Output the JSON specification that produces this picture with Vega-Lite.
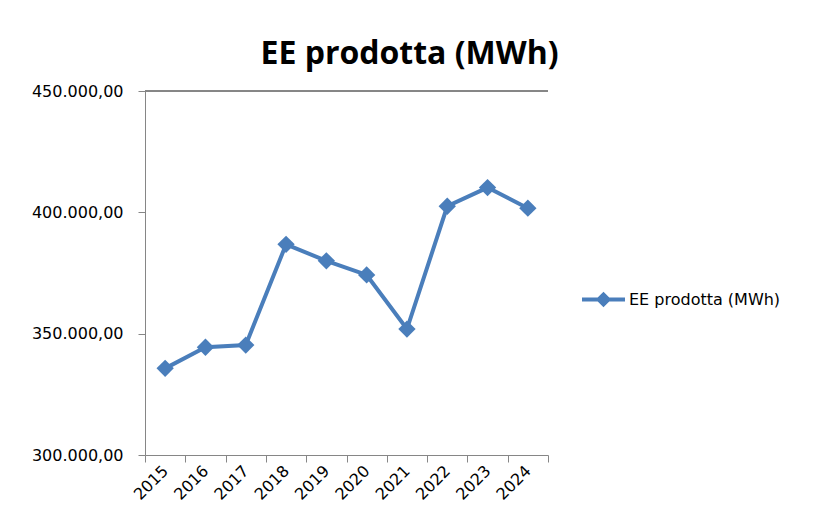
{
  "$schema": "https://vega.github.io/schema/vega-lite/v6.json",
  "autosize": {"type": "none"},
  "padding": {"left": 145, "top": 91, "right": 266, "bottom": 66},
  "width": 403,
  "height": 364,
  "background": "white",
  "config": {
    "locale": {"number": {"decimal": ",", "thousands": ".", "grouping": [3], "currency": ["€", ""]}},
    "view": {"stroke": null}
  },
  "title": {
    "text": "EE prodotta (MWh)",
    "font": "Open Sans",
    "fontSize": 32,
    "fontWeight": "bold",
    "color": "black",
    "anchor": "middle",
    "frame": "group",
    "dx": 63,
    "dy": 38,
    "baseline": "alphabetic",
    "offset": 25
  },
  "data": {
    "values": [
      {"year": "2015", "value": 335700, "serie": "EE prodotta (MWh)"},
      {"year": "2016", "value": 344400, "serie": "EE prodotta (MWh)"},
      {"year": "2017", "value": 345300, "serie": "EE prodotta (MWh)"},
      {"year": "2018", "value": 386800, "serie": "EE prodotta (MWh)"},
      {"year": "2019", "value": 380000, "serie": "EE prodotta (MWh)"},
      {"year": "2020", "value": 374200, "serie": "EE prodotta (MWh)"},
      {"year": "2021", "value": 351900, "serie": "EE prodotta (MWh)"},
      {"year": "2022", "value": 402500, "serie": "EE prodotta (MWh)"},
      {"year": "2023", "value": 410200, "serie": "EE prodotta (MWh)"},
      {"year": "2024", "value": 401700, "serie": "EE prodotta (MWh)"}
    ]
  },
  "layer": [
    {
      "mark": {"type": "rule", "color": "#868686", "strokeWidth": 1},
      "encoding": {"y": {"datum": 450000, "type": "quantitative", "scale": {"domain": [300000, 450000]}}}
    },
    {
      "mark": {
        "type": "line",
        "strokeWidth": 4,
        "point": {"shape": "diamond", "size": 300, "filled": true, "opacity": 1}
      },
      "encoding": {
        "x": {
          "field": "year",
          "type": "ordinal",
          "scale": {"type": "band", "paddingInner": 0, "paddingOuter": 0},
          "axis": {
            "title": null,
            "labelAngle": -45,
            "labelAlign": "right",
            "labelBaseline": "middle",
            "labelFont": "DejaVu Sans",
            "labelFontSize": 16,
            "labelColor": "black",
            "labelPadding": 6,
            "tickBand": "extent",
            "tickSize": 7,
            "tickColor": "#868686",
            "domainColor": "#868686",
            "grid": false
          }
        },
        "y": {
          "field": "value",
          "type": "quantitative",
          "scale": {"domain": [300000, 450000], "nice": false, "zero": false},
          "axis": {
            "title": null,
            "values": [300000, 350000, 400000, 450000],
            "format": ",.2f",
            "labelFont": "DejaVu Sans",
            "labelFontSize": 16,
            "labelColor": "black",
            "labelPadding": 15,
            "tickSize": 7,
            "tickColor": "#868686",
            "domainColor": "#868686",
            "grid": false
          }
        },
        "color": {
          "field": "serie",
          "type": "nominal",
          "scale": {"range": ["#4A7EBB"]},
          "legend": {
            "title": null,
            "orient": "none",
            "legendX": 435,
            "legendY": 185,
            "padding": 0,
            "symbolType": "M-1,0L1,0M-0.23,0L0,-0.23L0.23,0L0,0.23Z",
            "symbolSize": 1849,
            "symbolStrokeWidth": 4,
            "symbolFillColor": "#4A7EBB",
            "symbolStrokeColor": "#4A7EBB",
            "labelFont": "DejaVu Sans",
            "labelFontSize": 16,
            "labelColor": "black",
            "labelOffset": 2
          }
        }
      }
    }
  ]
}
